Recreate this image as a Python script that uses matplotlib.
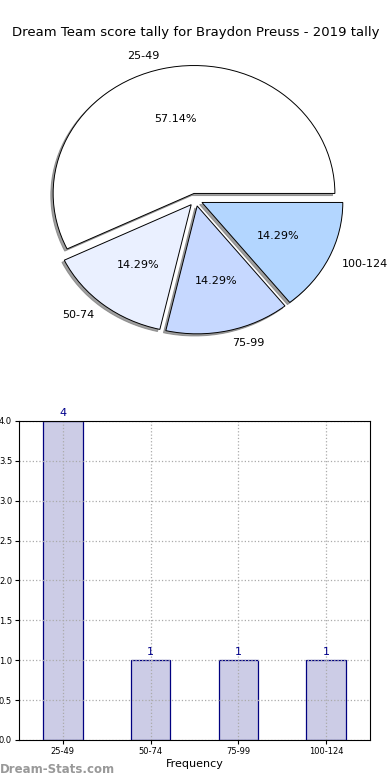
import matplotlib
matplotlib.use('Agg')
import matplotlib.pyplot as plt
import numpy as np

title = 'Dream Team score tally for Braydon Preuss - 2019 tally'
categories = ['25-49', '50-74', '75-99', '100-124']
counts = [4, 1, 1, 1]
pie_colors = ['#ffffff', '#eaf0ff', '#c6d8ff', '#b3d6ff']

fig = plt.figure(figsize=(3.9, 7.8), dpi=100)

# pie on top
ax1 = fig.add_axes([0.05, 0.539, 0.903, 0.41])
wedges, texts, autotexts = ax1.pie(counts, labels=categories, colors=pie_colors,
                                   explode=[0.05] * len(counts),
                                   shadow={'ox': -0.012, 'oy': -0.012, 'color': '#777777', 'alpha': 0.7},
                                   autopct='%.2f%%', startangle=0,
                                   wedgeprops={'edgecolor': 'black', 'linewidth': 0.7},
                                   textprops={'fontsize': 8})
ax1.set_aspect('auto')
ax1.set_xlim(-1.25, 1.25)
ax1.set_ylim(-1.25, 1.25)
ax1.set_title(title, fontsize=9.5, pad=3)

# bars below
ax2 = fig.add_axes([0.0487, 0.0513, 0.9, 0.409])
x = np.arange(len(categories))
bars = ax2.bar(x, counts, width=0.45, color='#ccccE6', edgecolor='#000080', linewidth=0.9, zorder=2)
for xi, c in zip(x, counts):
    ax2.text(xi, c + 0.04, str(c), ha='center', va='bottom', fontsize=8, color='#00008b')
ax2.set_xlim(-0.5, 3.5)
ax2.set_ylim(0, 4.0)
ax2.set_yticks(np.arange(0, 4.01, 0.5))
ax2.set_yticklabels(['%.1f' % v for v in np.arange(0, 4.01, 0.5)])
ax2.set_xticks(x)
ax2.set_xticklabels(categories)
ax2.tick_params(labelsize=6, length=3, pad=2)
ax2.grid(True, linestyle=':', color='#aaaaaa', linewidth=0.9)
ax2.set_axisbelow(False)
for sp in ax2.spines.values():
    sp.set_zorder(5)
ax2.set_xlabel('Frequency', fontsize=8, labelpad=2)

fig.text(0.0, 0.005, 'Dream-Stats.com', fontsize=8.5, color='#999999', fontweight='bold', ha='left', va='bottom')

fig.savefig('out.png', dpi=100)
